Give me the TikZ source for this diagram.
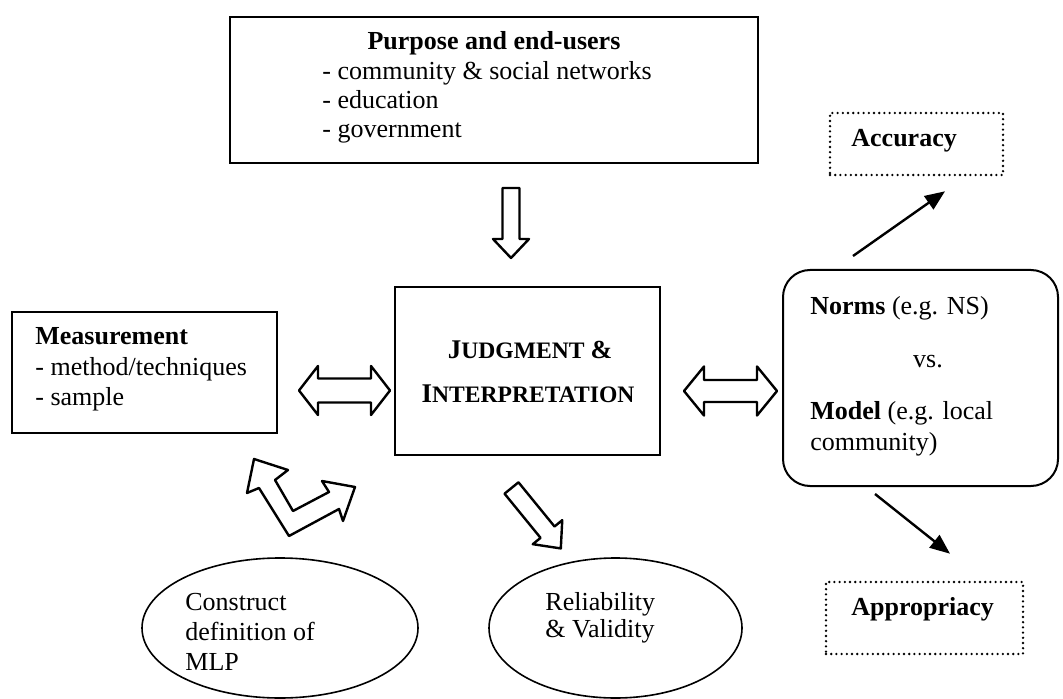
\documentclass[tikz,border=0pt]{standalone}
\usepackage{fontspec}
\setmainfont{Liberation Serif}
\usetikzlibrary{shapes.geometric,arrows.meta}
% hollow block arrows, drawn pointing along the local x axis
% arguments: length / shaft half width / head half width / head length
\tikzset{
  pics/blockarrow/.style args={#1/#2/#3/#4}{code={
    \path[hollow] (0,-#2) -- ({#1-#4},-#2) -- ({#1-#4},-#3) -- (#1,0)
      -- ({#1-#4},#3) -- ({#1-#4},#2) -- (0,#2) -- cycle;}},
  pics/twowayarrow/.style args={#1/#2/#3/#4}{code={
    \path[hollow] (0,0) -- (#4,-#3) -- (#4,-#2) -- ({#1-#4},-#2) -- ({#1-#4},-#3)
      -- (#1,0) -- ({#1-#4},#3) -- ({#1-#4},#2) -- (#4,#2) -- (#4,#3) -- cycle;}}
}
\newcommand{\capsbig}{\fontsize{13.5}{15}\selectfont}
\newcommand{\capssmall}{\fontsize{11.8}{15}\selectfont}
\begin{document}
\begin{tikzpicture}[x=0.5pt,y=-0.5pt,
  font=\fontsize{13}{15}\selectfont,
  box/.style={draw, line width=1pt, inner sep=0pt},
  roundbox/.style={draw, line width=1pt, inner sep=0pt, rounded corners=13.5pt},
  dotbox/.style={draw, line width=1.3pt, line cap=round, dash pattern=on 0pt off 2.6pt, inner sep=0pt},
  oval/.style={draw, ellipse, line width=0.8pt, inner sep=0pt},
  txt/.style={inner sep=0pt, anchor=base west},
  ctxt/.style={inner sep=0pt, anchor=base},
  hollow/.style={draw, line width=1.2pt, line join=round, fill=white},
  pointer/.style={line width=1.2pt, -{Triangle[length=10pt,width=8pt]}}]
\useasboundingbox (0,0) rectangle (1063,699);

% boxes
\node[box, minimum width=264pt, minimum height=73pt] (purpose) at (494,90) {};
\node[box, minimum width=132.5pt, minimum height=84pt] (judge) at (527.5,371) {};
\node[box, minimum width=132.5pt, minimum height=60.5pt] (measure) at (144.5,372.5) {};
\node[roundbox, minimum width=137.5pt, minimum height=108pt] (norms) at (920.5,378) {};
\node[dotbox, minimum width=86.5pt, minimum height=31pt] (acc) at (916.5,144) {};
\node[dotbox, minimum width=98.5pt, minimum height=36pt] (appr) at (924.5,618) {};
\node[oval, minimum width=138pt, minimum height=70pt] (construct) at (280,628) {};
\node[oval, minimum width=126.5pt, minimum height=70pt] (relval) at (615.5,628) {};

% texts
\node[ctxt] (purposeT) at (494,50) {\bfseries Purpose and end-users};
\node[txt] (p1) at (322,80) {- community \& social networks};
\node[txt] (p2) at (322,109) {- education};
\node[txt] (p3) at (322,138) {- government};

\node[txt] (measureT) at (35,345) {\bfseries Measurement};
\node[txt] (m1) at (35,375) {- method/techniques};
\node[txt] (m2) at (35,405) {- sample};

\node[ctxt] (judgeT1) at (530,358) {\bfseries{\capsbig J}{\capssmall UDGMENT }{\fontsize{13}{15}\selectfont\&}};
\node[ctxt] (judgeT2) at (528,402) {\bfseries{\capsbig I}{\capssmall NTERPRETATION}};

\node[txt] (n1) at (810,315) {\textbf{Norms} (e.g. NS)};
\node[ctxt] (vs) at (928,368) {vs.};
\node[txt] (n2) at (810,419) {\textbf{Model} (e.g. local};
\node[txt] (n3) at (810,450) {community)};

\node[txt] (accT) at (851,147) {\bfseries Accuracy};
\node[txt] (apprT) at (851,615) {\bfseries Appropriacy};

\node[txt] (c1) at (185,610) {Construct};
\node[txt] (c2) at (185,640) {definition of};
\node[txt] (c3) at (185,670) {MLP};
\node[txt] (r1) at (545,610) {Reliability};
\node[txt] (r2) at (545,637) {\& Validity};

% block arrow end points
\coordinate (downTail) at ([xshift=8.5pt,yshift=-12pt]purpose.south);
\coordinate (leftTip) at ([xshift=10.5pt,yshift=-9pt]measure.east);
\coordinate (rightTip) at ([xshift=11.5pt,yshift=-10pt]judge.east);
\coordinate (diagTail) at ([xshift=-8pt,yshift=-16pt]judge.south);

\pic[rotate=-90] at (downTail) {blockarrow=70/8.5/18/19};
\pic at (leftTip) {twowayarrow=91/12/24.5/19};
\pic at (rightTip) {twowayarrow=93/11/24.5/20};
\pic[rotate=-50.8] at (diagTail) {blockarrow=78/9/19/21};

% bent two-headed arrow between measurement and judgment
\path[hollow] (254,459) -- (247,493) -- (259,488) -- (289,536) -- (339,509)
  -- (343,521) -- (355,487) -- (322,481) -- (329,492) -- (293,511)
  -- (275,480) -- (288,470) -- cycle;

% pointers to the outcome boxes
\coordinate (accFrom) at ([xshift=-33.75pt,yshift=6.5pt]norms.north);
\coordinate (accTo) at ([xshift=14.25pt,yshift=-7.5pt]acc.south);
\coordinate (apprFrom) at ([xshift=-22.75pt,yshift=-3.5pt]norms.south);
\coordinate (apprTo) at ([xshift=12.75pt,yshift=13.5pt]appr.north);
\draw[pointer] (accFrom) -- (accTo);
\draw[pointer] (apprFrom) -- (apprTo);
\end{tikzpicture}
\end{document}
